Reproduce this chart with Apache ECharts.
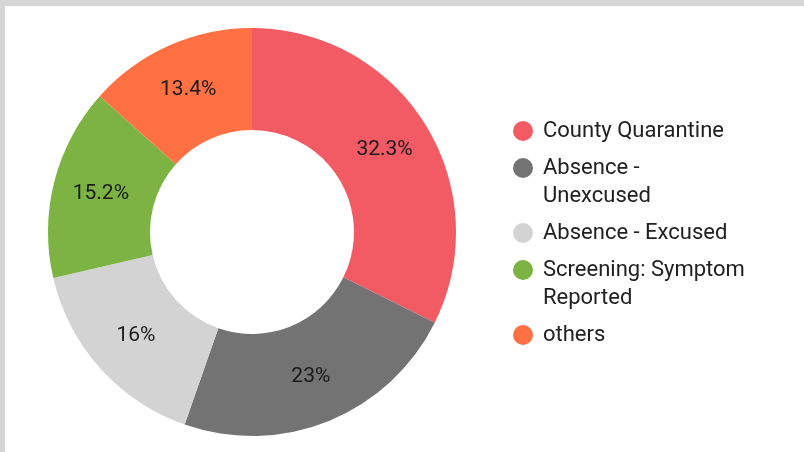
<!DOCTYPE html>
<html>
<head>
<meta charset="utf-8">
<script src="https://cdn.jsdelivr.net/npm/echarts@6/dist/echarts.min.js"></script>
<style>
  html, body { margin: 0; padding: 0; background: #d6d6d6; }
  #chart { position: absolute; left: 5px; top: 6px; width: 799px; height: 446px; background: #fff; }
</style>
</head>
<body>
<div id="chart"></div>
<script>
var categories = ['County Quarantine', 'Absence - Unexcused', 'Absence - Excused', 'Screening: Symptom Reported', 'others'];
// legend text as it wraps in the reference
var legendLines = [
    ['County Quarantine'],
    ['Absence -', 'Unexcused'],
    ['Absence - Excused'],
    ['Screening: Symptom', 'Reported'],
    ['others']
];
var percents = [32.3, 23, 16, 15.2, 13.4];
var colors = ['#f25a64', '#737373', '#d3d3d3', '#7cb342', '#ff7043'];

var myChart = echarts.init(document.getElementById('chart'));

// rich styles: one dot per colour, so the dot sits on the first text line
var rich = {
    t: { fontFamily: 'Roboto', fontSize: 22, lineHeight: 28, color: '#212121' },
    g: { width: 10, height: 20 },
    p: { width: 30, height: 20 }
};
colors.forEach(function (c, i) {
    rich['d' + i] = { width: 20, height: 20, borderRadius: 10, backgroundColor: c };
});

var option = {
    color: colors,
    legend: {
        orient: 'vertical',
        left: 498,
        top: 106,
        icon: 'none',
        itemWidth: 0,
        itemHeight: 20,
        itemGap: 9,
        formatter: function (name) {
            var i = categories.indexOf(name);
            var lines = legendLines[i];
            var s = '{d' + i + '|}{g|}{t|' + lines[0] + '}';
            for (var k = 1; k < lines.length; k++) {
                s += '\n{p|}{t|' + lines[k] + '}';
            }
            return s;
        },
        textStyle: {
            fontFamily: 'Roboto',
            fontSize: 22,
            lineHeight: 28,
            color: '#212121',
            rich: rich
        }
    },
    series: [
        {
            type: 'pie',
            center: [247, 226],
            radius: [102, 204],
            startAngle: 90,
            clockwise: true,
            animation: false,
            label: {
                show: true,
                position: 'inside',
                formatter: '{c}%',
                fontFamily: 'Roboto',
                fontSize: 21,
                color: '#1a1a1a'
            },
            labelLine: { show: false },
            emphasis: { disabled: true },
            data: categories.map(function (n, i) {
                return { name: n, value: percents[i] };
            })
        }
    ]
};

myChart.setOption(option);
</script>
</body>
</html>
